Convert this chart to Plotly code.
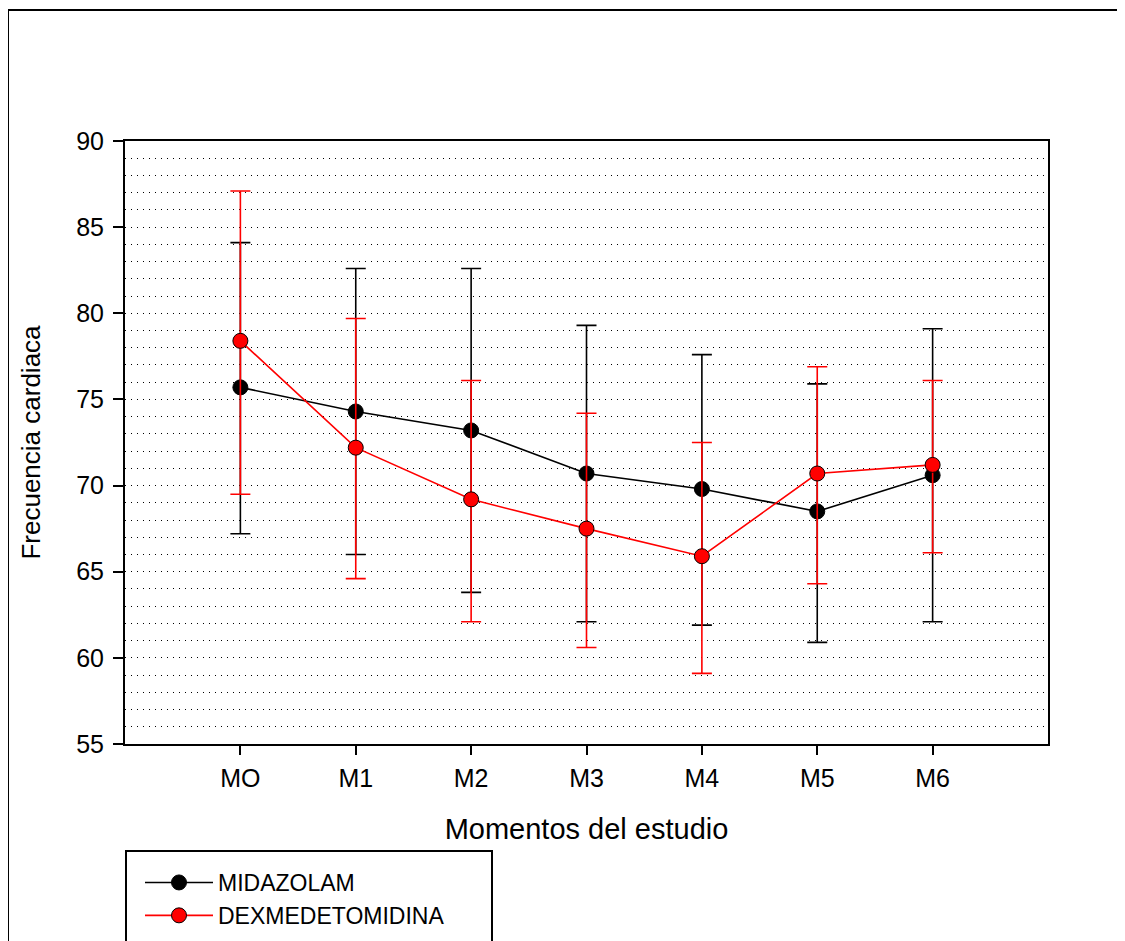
import plotly.graph_objects as go

categories = ["MO", "M1", "M2", "M3", "M4", "M5", "M6"]

midazolam_mean = [75.7, 74.3, 73.2, 70.7, 69.8, 68.5, 70.6]
midazolam_upper = [84.1, 82.6, 82.6, 79.3, 77.6, 75.9, 79.1]
midazolam_lower = [67.2, 66.0, 63.8, 62.1, 61.9, 60.9, 62.1]

dex_mean = [78.4, 72.2, 69.2, 67.5, 65.9, 70.7, 71.2]
dex_upper = [87.1, 79.7, 76.1, 74.2, 72.5, 76.9, 76.1]
dex_lower = [69.5, 64.6, 62.1, 60.6, 59.1, 64.3, 66.1]

y_ticks = [55, 60, 65, 70, 75, 80, 85, 90]

FONT = "Liberation Sans, Arial, sans-serif"


def err(mean, upper, lower, color):
    return dict(
        type="data",
        symmetric=False,
        array=[u - m for u, m in zip(upper, mean)],
        arrayminus=[m - l for m, l in zip(mean, lower)],
        color=color,
        thickness=1.6,
        width=10,
    )


fig = go.Figure()
fig.add_trace(go.Scatter(
    x=categories, y=midazolam_mean, name="MIDAZOLAM",
    mode="lines+markers",
    line=dict(color="black", width=1.6),
    marker=dict(color="black", size=15, line=dict(color="black", width=1)),
    error_y=err(midazolam_mean, midazolam_upper, midazolam_lower, "black"),
))
fig.add_trace(go.Scatter(
    x=categories, y=dex_mean, name="DEXMEDETOMIDINA",
    mode="lines+markers",
    line=dict(color="#ff0000", width=1.6),
    marker=dict(color="#ff0000", size=15, line=dict(color="black", width=1)),
    error_y=err(dex_mean, dex_upper, dex_lower, "#ff0000"),
))

# page body has an 8px default margin; work in reference-pixel coordinates
OFF = 8
W, H = 1125 - OFF, 941 - OFF
L, R, T, B = 125 - OFF, 1048 - OFF, 141 - OFF, 744 - OFF
pw, ph = R - L, B - T


def px(x):
    return (x - OFF - L) / pw


def py(y):
    return (B - (y - OFF)) / ph


fig.update_layout(
    width=W, height=H,
    margin=dict(l=L, r=W - R, t=T, b=H - B, pad=0, autoexpand=False),
    paper_bgcolor="white", plot_bgcolor="white",
    font=dict(family=FONT, color="black", size=24),
    showlegend=True,
    legend=dict(
        x=px(140), y=py(861), xanchor="left", yanchor="top",
        bgcolor="rgba(0,0,0,0)", borderwidth=0,
        font=dict(size=23, family=FONT),
        itemwidth=68, tracegroupgap=0,
    ),
    shapes=[
        dict(type="rect", xref="paper", yref="paper",
             x0=px(8), x1=px(1140), y0=py(10), y1=py(960),
             line=dict(color="black", width=2), fillcolor="rgba(0,0,0,0)", layer="below"),
        dict(type="rect", xref="paper", yref="paper",
             x0=px(126), x1=px(492), y0=py(851), y1=py(960),
             line=dict(color="black", width=2), fillcolor="rgba(0,0,0,0)", layer="below"),
    ],
)

fig.update_xaxes(
    type="category", range=[-1, 7], automargin=False,
    showline=True, linecolor="black", linewidth=2, mirror=True,
    ticks="outside", ticklen=9, tickwidth=1.5, tickcolor="black",
    showgrid=False, zeroline=False,
    tickfont=dict(size=25, family=FONT),
    ticklabelstandoff=2,
    title=dict(text="Momentos del estudio", font=dict(size=29, family=FONT), standoff=28),
)
fig.update_yaxes(
    range=[55, 90], tickvals=y_ticks, automargin=False,
    showline=True, linecolor="black", linewidth=2, mirror=True,
    ticks="outside", ticklen=10, tickwidth=1.5, tickcolor="black",
    showgrid=False, zeroline=False,
    tickfont=dict(size=25, family=FONT),
    ticklabelstandoff=4,
    minor=dict(dtick=1, showgrid=True, gridcolor="black", gridwidth=1, griddash="1px,5px", ticks=""),
    title=dict(text="Frecuencia cardiaca", font=dict(size=26, family=FONT), standoff=28),
)

fig.write_html("out.html")
